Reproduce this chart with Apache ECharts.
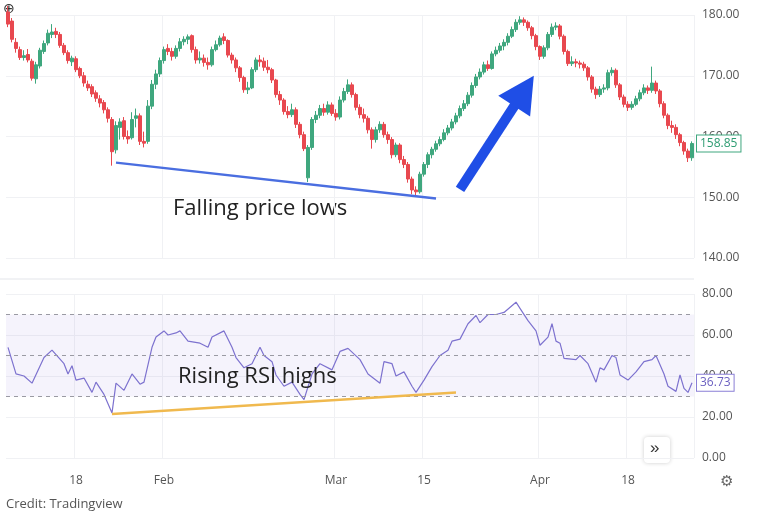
<!DOCTYPE html>
<html>
<head>
<meta charset="utf-8">
<script src="https://cdn.jsdelivr.net/npm/echarts@6/dist/echarts.min.js"></script>
<style>
  html, body { margin: 0; padding: 0; background: #fff; }
  #main { width: 761px; height: 530px; }
</style>
</head>
<body>
<div id="main"></div>
<script>
// candles: [open, close, low, high]
var candles = [
  [180.5,178.5,178,181.5],[179,176,175.5,179.5],[175.5,174.5,173.8,176.2],[174.3,173,172.6,174.8],
  [173,173.3,172.5,174.2],[173.5,172.6,172.2,174.4],[172.4,169.6,169.2,172.8],[169.5,171.8,168.7,172.3],
  [171.6,174.2,171.2,174.6],[174,175.3,173.6,175.8],[175.4,177,175,177.6],[176.8,177.2,176.2,178.5],
  [177.3,176.8,176.2,177.9],[176.8,175,174.6,177.2],[175,173.8,173.4,175.4],[173.8,172.5,172,174.2],
  [172.3,172.9,171.6,173.3],[172.8,171,170.6,173.2],[171.2,170,169.6,171.5],[170,168.8,168.2,170.6],
  [168.6,168,167.5,169.2],[168.2,167,166.5,168.6],[167.2,166.3,165.7,167.6],[166.2,165.5,164.8,166.8],
  [165.6,164.4,163.8,166],[164.4,163,162.3,164.8],[162.8,157.5,155.2,163.2],[157.8,161.8,157.2,162.5],
  [161.5,162.4,159.5,163],[162.6,160,159.5,163.2],[160,159.6,158.8,161],[159.8,162.8,159.5,164],
  [163,163.4,161.5,164.6],[163.4,159.2,158.6,163.8],[159.2,158.9,158.2,160.8],[159.2,165,158.8,166],
  [165,168.6,164.5,169.3],[168.6,170.3,167.8,171],[170.3,172.5,169.8,173],[172.5,174.3,172,174.8],
  [174.5,174,173.4,175.2],[174,173.2,172.5,174.6],[173.2,174.5,172.8,175],[174.5,175.6,174,176.2],
  [175.6,176,175,176.5],[176,176.4,175.2,176.8],[176.6,174.3,173.8,176.8],[174.3,172.6,172,174.8],
  [172.6,172.9,172,174],[172.9,172.2,171.5,173.5],[172.2,171.8,171,173],[171.8,174.3,171.5,174.8],
  [174.3,175.1,174,175.8],[175.1,176.2,174.8,176.6],[176.4,175.8,175.2,177],[175.8,173.4,173,176],
  [173.4,172.6,172,173.8],[172.6,171.3,170.6,173],[171.3,169.7,169,171.6],[169.7,167.7,167.2,170],
  [167.7,168,167,169],[168,171,167.8,171.4],[171,172.6,170.6,173],[172.6,172.3,171.5,173.4],
  [172.4,171.4,170.8,173],[171.4,171,170.4,172.6],[171,169.3,168.8,171.3],[169.3,166.9,166.4,169.5],
  [166.9,166,165.2,167.5],[166,164.1,163.6,166.3],[164.1,163.6,163,165],[163.6,164.4,163.2,165.4],
  [164.4,162,161.4,164.8],[162,160.3,159.7,162.4],[160.3,158,157.6,160.8],[153.2,158.2,152.5,158.6],
  [158.2,162.8,157.8,163.2],[162.8,163.5,162.2,164.2],[163.5,164.6,163,165.2],[164.6,164,163.4,165.4],
  [164,165.2,163.6,165.8],[165.2,163.8,163.4,165.6],[163.8,163.2,162.6,164.5],[163.2,166,162.8,166.6],
  [166,167.4,165.6,168],[167.4,168.5,167,169.4],[168.5,166.9,166.4,168.9],[166.9,164.8,164.3,167.2],
  [164.8,163.6,163,165.3],[163.6,163,162.3,164.6],[163,161.1,160.5,163.4],[161.1,159.5,158,161.5],
  [159.5,161.1,159,161.6],[161.1,162,160.6,162.5],[162,160.3,159.8,162.4],[160.3,159.5,158.8,160.8],
  [159.5,157,156.4,159.9],[157,158.6,156.6,159],[158.6,156.2,155.6,158.9],[156.2,155.4,154.8,156.8],
  [155.4,153,152.4,155.8],[153,151.2,150.5,153.4],[151.2,150.9,150.2,151.8],[150.9,153.8,150.6,154.2],
  [153.8,155.4,153.4,155.8],[155.4,157,154.8,157.4],[157,157.9,156.4,158.3],[157.9,158.8,157.5,159.3],
  [158.8,159.5,158.4,160],[159.5,160.6,159.2,161.2],[160.6,161.4,160.2,161.9],[161.4,162.4,161,162.9],
  [162.4,163.4,162,163.9],[163.4,164.6,163,165.1],[164.6,165.4,164.2,166],[165.4,166.8,165,167.3],
  [166.8,168.4,166.4,168.9],[168.4,169.8,168,170.3],[169.8,170.6,169.4,171.2],[170.6,171.8,170.2,172.3],
  [171.8,171.2,170.8,172.5],[171.2,173.6,171,174],[173.6,174.2,173.2,174.8],[174.2,174.9,173.8,175.4],
  [174.9,175.5,174.2,176],[175.5,176.5,175,177],[176.5,177.6,176.2,178.1],[177.6,178.8,177.2,179.3],
  [178.8,179.2,178.4,179.8],[179.2,178.8,178.2,179.6],[178.8,177.9,177.4,179.1],[177.9,176.6,176,178.2],
  [176.6,174.8,174.2,176.9],[174.8,173.2,172.6,175],[173.2,174.6,172.8,175],[174.6,176.8,174.2,177.2],
  [176.8,178,176.4,178.6],[178,178.2,177.5,178.8],[178.2,176.5,176,178.5],[176.5,174,173.5,176.8],
  [174,172,171.6,174.3],[172,172.3,171.6,173.2],[172.3,172.1,171.4,172.8],[172.1,171.9,171.2,172.5],
  [171.9,171.3,170.8,172.3],[171.3,169.8,169.2,171.6],[169.8,167.8,167.2,170.1],[167.8,166.9,166.2,168.2],
  [166.9,167.8,166.5,168.3],[167.8,168,167.2,168.6],[168,170.5,167.6,171],[170.5,170.9,170,171.4],
  [170.9,168.5,168,171.2],[168.5,166.5,166,168.8],[166.5,165.3,164.8,166.9],[165.3,164.8,164.2,165.8],
  [164.8,165.3,164.4,165.8],[165.3,166.2,165,166.7],[166.2,167.2,165.8,167.7],[167.2,168,166.8,168.6],
  [168,167.6,167,168.4],[167.6,168.8,167.2,171.5],[168.8,167.5,167,169.2],[167.5,165.4,164.8,167.8],
  [165.4,163.5,163,165.8],[163.5,161.8,161.2,163.8],[161.8,161.5,160.6,162.6],[161.5,160.3,159.6,162],
  [160.3,159,158.4,160.6],[159,157.6,157,159.3],[157.6,156.5,155.8,158],[156.5,158.85,156,159.2]
];

// RSI readings at candle indices
var rsiIdx = [0,2,4,6,9,11,14,15,16,17,19,21,22,24,26,27,29,31,33,34,36,37,39,40,42,43,45,48,50,51,54,56,57,59,61,63,64,66,67,69,71,73,74,76,78,81,83,85,88,90,93,94,96,97,99,101,102,104,106,108,110,111,113,115,117,118,120,122,124,127,128,130,132,133,135,136,137,138,139,142,143,145,147,148,149,151,152,153,155,157,159,161,162,164,165,167,168,169,170,171];
var rsiVal = [54,41,40,36.5,49,52.6,46,41,45,38,39,32,37,31,22,36.5,33,41,36,37,54,59,62,60,61,62,57,56,54,59,62,54,49,44,46,54,50,47,40.5,35,37,31,28.5,41,46,43,52,53.5,48,41,36.5,47,46,40,42,35,32,38,44.6,50,52.6,57,58,65.5,69.5,66,70,70,71,76,73,67,62,55,59,65.5,57,56,48.6,48,50,46,37,44,43,50,49,40.5,38,42,47,48,50,41,35,32.5,40.5,34,32,36.73];

var tickIdx = [17, 39, 82, 104, 133, 155];
var tickLabels = ['18', 'Feb', 'Mar', '15', 'Apr', '18'];

var lastPrice = 158.85;
var lastRsi = 36.73;

var cats = candles.map(function (c, i) { return String(i); });
var rsiData = cats.map(function () { return null; });
rsiIdx.forEach(function (k, j) { rsiData[k] = rsiVal[j]; });

var onTick = function (i) { return tickIdx.indexOf(i) >= 0; };
var gridColor = '#f0f1f4';

function lastLabel(value, color, border) {
    return {
        yAxis: value,
        lineStyle: { color: 'rgba(0,0,0,0)', width: 0, type: 'solid' },
        label: {
            show: true, position: 'end', formatter: value.toFixed(2), color: color, fontSize: 12,
            backgroundColor: '#fff', borderColor: border, borderWidth: 1, padding: [2, 3], distance: 3
        }
    };
}

var myChart = echarts.init(document.getElementById('main'));
myChart.setOption({
    animation: false,
    textStyle: { fontFamily: 'Open Sans' },
    grid: [
        { left: 6, right: 67, top: 15, bottom: 272 },
        { left: 6, right: 67, top: 294, bottom: 72 }
    ],
    xAxis: [
        {
            type: 'category', gridIndex: 0, data: cats,
            axisLine: { show: false }, axisTick: { show: false }, axisLabel: { show: false },
            splitLine: { show: true, interval: onTick, lineStyle: { color: gridColor } }
        },
        {
            type: 'category', gridIndex: 1, data: cats,
            axisLine: { show: false }, axisTick: { show: false },
            axisLabel: {
                interval: onTick, margin: 17, color: '#555', fontSize: 12,
                formatter: function (v) { return tickLabels[tickIdx.indexOf(Number(v))]; }
            },
            splitLine: { show: true, interval: onTick, lineStyle: { color: gridColor } }
        }
    ],
    yAxis: [
        {
            type: 'value', gridIndex: 0, position: 'right', min: 140, max: 180, interval: 10,
            axisLabel: { color: '#555', fontSize: 12, margin: 8, formatter: function (v) { return v.toFixed(2); } },
            splitLine: { lineStyle: { color: gridColor } }
        },
        {
            type: 'value', gridIndex: 1, position: 'right', min: 0, max: 80, interval: 20,
            axisLabel: { color: '#555', fontSize: 12, margin: 8, formatter: function (v) { return v.toFixed(2); } },
            splitLine: { lineStyle: { color: gridColor } }
        }
    ],
    graphic: [
        { type: 'line', shape: { x1: 0, y1: 279, x2: 694, y2: 279 }, style: { stroke: '#e3e5ea', lineWidth: 1 } },
        { type: 'text', left: 173, top: 198, style: { text: 'Falling price lows', fontSize: 22, fill: '#222', fontFamily: 'Open Sans' } },
        { type: 'text', left: 178, top: 366, z: 10, style: { text: 'Rising RSI highs', fontSize: 22, fill: '#222', fontFamily: 'Open Sans' } },
        { type: 'text', left: 6, top: 498, style: { text: 'Credit: Tradingview', fontSize: 13, fill: '#555', fontFamily: 'Open Sans' } },
        { type: 'text', left: 3, top: 2, style: { text: '⊕', fontSize: 14, fill: '#333' } },
        { type: 'rect', shape: { x: 644, y: 437, width: 26, height: 26, r: 4 }, style: { fill: '#fff', shadowBlur: 4, shadowColor: 'rgba(0,0,0,0.2)' } },
        { type: 'text', left: 650, top: 440, style: { text: '»', fontSize: 17, fill: '#333' } },
        { type: 'text', left: 720, top: 474, style: { text: '⚙', fontSize: 15, fill: '#666' } }
    ],
    series: [
        {
            type: 'candlestick', xAxisIndex: 0, yAxisIndex: 0, data: candles, clip: false,
            barWidth: 3,
            itemStyle: { color: '#3fa77e', color0: '#e8484f', borderColor: '#3fa77e', borderColor0: '#e8484f', borderWidth: 1 },
            markLine: {
                silent: true, symbol: ['none', 'none'],
                label: { show: false },
                data: [
                    [
                        { coord: ['27', 155.7], lineStyle: { color: '#4a6ee0', width: 2.5, type: 'solid' } },
                        { coord: ['107', 149.8] }
                    ],
                    [
                        { coord: ['113', 151.3], symbol: 'none', lineStyle: { color: '#1f4ee6', width: 10, type: 'solid' } },
                        { coord: ['129', 167.5], symbol: 'triangle', symbolSize: [38, 36] }
                    ],
                    lastLabel(lastPrice, '#2e9c72', '#3fa77e')
                ]
            }
        },
        {
            type: 'line', xAxisIndex: 1, yAxisIndex: 1, data: rsiData, connectNulls: true,
            showSymbol: false, lineStyle: { color: '#7d72cf', width: 1.2 },
            markArea: {
                silent: true, itemStyle: { color: 'rgba(126,100,220,0.08)' },
                data: [[{ yAxis: 30 }, { yAxis: 70 }]]
            },
            markLine: {
                silent: true, symbol: ['none', 'none'],
                lineStyle: { color: '#9a9aa3', type: [4, 4], width: 1 },
                label: { show: false },
                data: [
                    { yAxis: 70 }, { yAxis: 50 }, { yAxis: 30 },
                    [
                        { coord: ['26', 21.5], lineStyle: { color: '#f0b94e', width: 2.5, type: 'solid' } },
                        { coord: ['112', 32] }
                    ],
                    lastLabel(lastRsi, '#6a5fc0', '#8a7fd6')
                ]
            }
        }
    ]
});
</script>
</body>
</html>
